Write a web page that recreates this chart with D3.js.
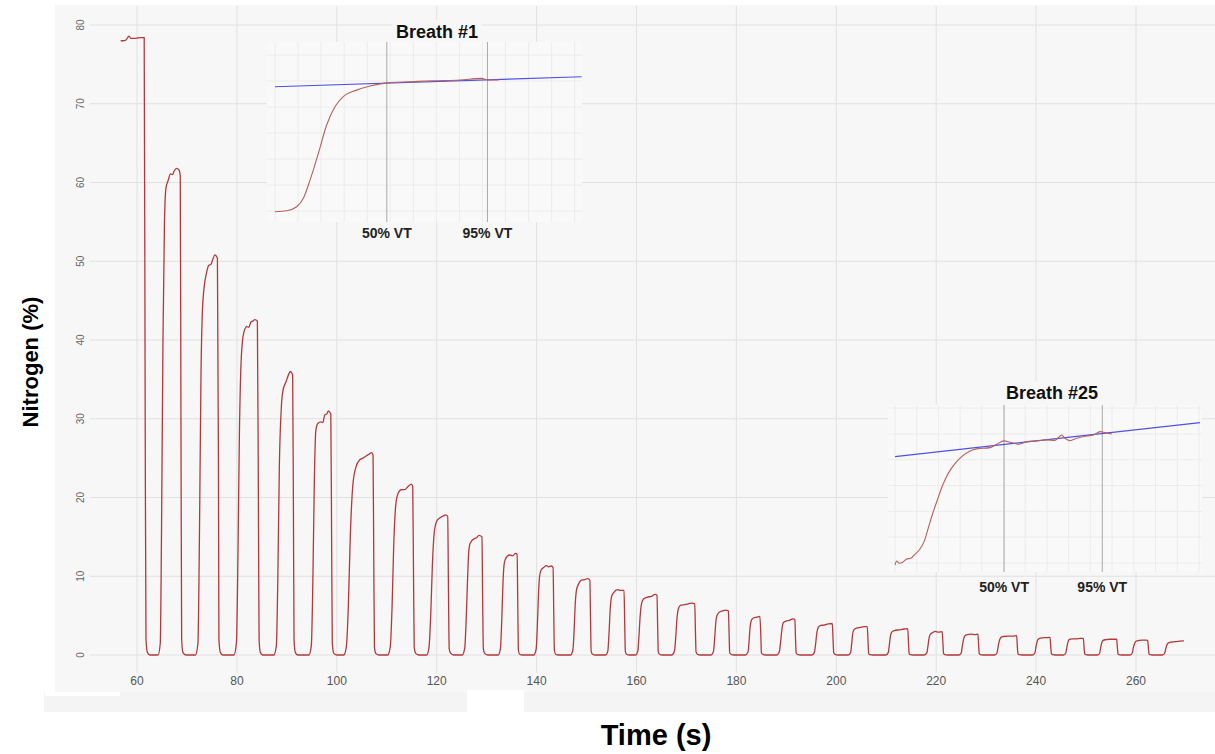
<!DOCTYPE html>
<html>
<head>
<meta charset="utf-8">
<script src="https://cdn.jsdelivr.net/npm/d3@7"></script>
<style>
	body { margin: 0; background: #fff; }
	svg { display: block; font-family: "Liberation Sans", Arial, sans-serif; }
</style>
</head>
<body>
<svg id="chart" width="1215" height="754"></svg>
<script>

// Data

var timeTicks = [60, 80, 100, 120, 140, 160, 180, 200, 220, 240, 260];
var nitrogenTicks = [0, 10, 20, 30, 40, 50, 60, 70, 80];

// washout trace, one array of [time (s), N2 (%)] per breath
var breaths = [
	[[56.74,78.0],[57.2,78.0],[57.8,78.1],[58.4,78.6],[58.8,78.3],[59.8,78.3],[60.6,78.4],[61.44,78.4],[61.64,30],[61.8,2],[62.1,0.3],[62.6,0]],
	[[64.2,0],[64.66,1.5],[64.9,15],[65.2,40],[65.5,55],[65.8,59.3],[66.26,60.3],[66.7,61.1],[67.1,61.0],[67.4,61.4],[67.9,61.8],[68.4,61.6],[68.66,60.9],[68.8,30],[68.94,2],[69.2,0.3],[69.8,0]],
	[[71.7,0],[72.2,1.5],[72.5,15],[72.8,35],[73.2,45],[73.94,48.6],[74.4,49.5],[74.8,49.6],[75.2,50.3],[75.6,50.8],[76.1,50.4],[76.3,25],[76.4,2],[76.7,0.3],[77.2,0]],
	[[79.4,0],[79.9,1.5],[80.2,12],[80.5,28],[80.9,38],[81.4,41.0],[82.0,41.7],[82.4,41.6],[82.8,42.3],[83.2,42.4],[83.6,42.6],[84.1,42.4],[84.3,20],[84.44,2],[84.7,0.3],[85.2,0]],
	[[87.4,0],[87.9,1.2],[88.2,10],[88.5,24],[88.9,31.5],[89.26,33.7],[89.7,34.5],[90.0,35.0],[90.4,35.7],[90.7,36.0],[91.16,35.6],[91.32,18],[91.44,2],[91.7,0.3],[92.2,0]],
	[[94.4,0],[94.9,1.2],[95.2,9],[95.5,22],[95.8,28.5],[96.2,29.4],[96.8,29.6],[97.2,29.5],[97.6,30.5],[98.0,30.6],[98.3,31.0],[98.8,30.6],[98.96,15],[99.1,1.5],[99.4,0.2],[100.0,0]],
	[[101.4,0],[101.9,1],[102.3,6],[102.7,15],[103.2,21.5],[103.8,23.8],[104.6,24.8],[105.26,25.0],[105.94,25.3],[106.46,25.5],[106.94,25.7],[107.26,25.4],[107.4,12],[107.54,1],[107.8,0.2],[108.4,0]],
	[[110.2,0],[110.7,1],[111.06,6],[111.4,14],[111.8,19],[112.26,20.5],[112.94,21.0],[113.6,21.0],[114.26,21.4],[114.94,21.7],[115.2,21.4],[115.36,10],[115.5,1],[115.8,0.2],[116.4,0]],
	[[118.0,0],[118.46,1],[118.8,5],[119.14,11.5],[119.5,15.5],[119.94,16.9],[120.6,17.4],[121.26,17.65],[121.8,17.8],[122.2,17.6],[122.36,8],[122.5,0.8],[122.8,0.2],[123.4,0]],
	[[125.1,0],[125.6,0.8],[125.9,4.5],[126.2,10],[126.4,13],[126.7,14.2],[127.6,14.8],[128.0,14.9],[128.46,15.2],[129.06,15.0],[129.2,7],[129.34,0.8],[129.6,0.2],[130.2,0]],
	[[132.3,0],[132.76,0.8],[133.0,4],[133.26,9],[133.46,11.3],[133.7,12.1],[134.6,12.7],[135.2,12.6],[135.8,12.9],[136.1,12.8],[136.24,6],[136.36,0.6],[136.6,0.1],[137.2,0]],
	[[139.4,0],[139.9,0.7],[140.14,3.5],[140.4,8],[140.6,10],[140.9,10.8],[141.4,11.1],[141.94,11.35],[142.4,11.2],[142.94,11.3],[143.3,11.1],[143.44,5],[143.56,0.6],[143.8,0.1],[144.4,0]],
	[[146.8,0],[147.26,0.6],[147.5,3],[147.74,6.5],[148.0,8.3],[148.4,9.0],[148.94,9.5],[149.5,9.55],[150.26,9.7],[150.66,9.5],[150.8,4.5],[150.92,0.5],[151.2,0.1],[151.8,0]],
	[[153.8,0],[154.26,0.5],[154.5,2.8],[154.74,5.8],[155.0,7.4],[155.4,7.9],[156.26,8.3],[156.8,8.2],[157.5,8.2],[157.64,4],[157.76,0.5],[158.0,0.1],[158.6,0]],
	[[159.8,0],[160.26,0.5],[160.5,2.5],[160.74,5],[161.0,6.5],[161.4,7.1],[162.2,7.35],[163.0,7.45],[163.7,7.7],[164.1,7.6],[164.24,3.5],[164.36,0.4],[164.6,0.1],[165.2,0]],
	[[167.1,0],[167.6,0.5],[167.86,2.3],[168.1,4.6],[168.4,5.9],[168.8,6.3],[169.6,6.4],[170.4,6.5],[171.1,6.6],[171.66,6.5],[171.8,3],[171.92,0.4],[172.2,0.1],[172.8,0]],
	[[174.9,0],[175.4,0.4],[175.64,2],[175.86,4],[176.1,5.0],[176.5,5.4],[177.2,5.6],[177.9,5.7],[178.4,5.6],[178.54,2.6],[178.66,0.3],[178.9,0.1],[179.5,0]],
	[[181.8,0],[182.34,0.4],[182.54,1.8],[182.74,3.5],[183.0,4.4],[183.4,4.7],[184.1,4.8],[184.7,4.9],[184.9,2.3],[185.0,0.3],[185.26,0.1],[185.8,0]],
	[[188.1,0],[188.6,0.4],[188.84,1.6],[189.1,3.2],[189.4,4.1],[189.9,4.3],[190.6,4.4],[191.3,4.6],[191.7,4.5],[191.84,2],[191.96,0.3],[192.2,0.1],[192.8,0]],
	[[195.1,0],[195.6,0.3],[195.86,1.4],[196.1,2.8],[196.4,3.5],[196.9,3.75],[197.6,3.8],[198.4,3.95],[199.2,4.0],[199.36,1.8],[199.48,0.3],[199.7,0.1],[200.3,0]],
	[[202.4,0],[202.86,0.3],[203.06,1.3],[203.26,2.6],[203.5,3.2],[204.0,3.4],[204.8,3.5],[205.6,3.6],[206.2,3.6],[206.36,1.6],[206.48,0.2],[206.7,0.05],[207.3,0]],
	[[209.9,0],[210.4,0.3],[210.6,1.2],[210.84,2.4],[211.1,2.9],[211.6,3.1],[212.6,3.2],[213.6,3.3],[214.3,3.35],[214.46,1.5],[214.58,0.2],[214.8,0.05],[215.4,0]],
	[[217.6,0],[218.14,0.3],[218.34,1.1],[218.56,2.1],[218.8,2.6],[219.3,2.85],[219.8,3.0],[220.5,2.9],[221.2,2.95],[221.36,1.3],[221.48,0.2],[221.7,0.05],[222.3,0]],
	[[224.5,0],[225.0,0.25],[225.2,1.0],[225.44,1.9],[225.7,2.4],[226.2,2.6],[227.0,2.65],[227.8,2.6],[228.36,2.65],[228.5,1.2],[228.62,0.2],[228.84,0.05],[229.4,0]],
	[[231.7,0],[232.16,0.25],[232.36,0.9],[232.6,1.7],[232.9,2.2],[233.4,2.35],[234.4,2.4],[235.4,2.4],[236.1,2.45],[236.24,1.1],[236.36,0.2],[236.6,0.05],[237.2,0]],
	[[239.3,0],[239.76,0.25],[239.94,0.9],[240.16,1.6],[240.4,2.0],[240.9,2.15],[241.6,2.2],[242.3,2.2],[242.8,2.25],[242.94,1.0],[243.06,0.2],[243.3,0.05],[243.8,0]],
	[[245.5,0],[245.94,0.25],[246.14,0.9],[246.36,1.6],[246.6,1.95],[247.2,2.05],[248.0,2.05],[248.8,2.1],[249.46,2.12],[249.6,1.0],[249.72,0.2],[249.94,0.05],[250.4,0]],
	[[252.3,0],[252.74,0.25],[252.92,0.9],[253.12,1.5],[253.4,1.85],[254.0,1.95],[254.8,2.0],[255.5,2.0],[256.14,2.0],[256.28,0.9],[256.4,0.15],[256.6,0.05],[257.1,0]],
	[[258.8,0],[259.26,0.25],[259.46,0.9],[259.68,1.4],[260.0,1.75],[260.6,1.85],[261.3,1.9],[261.9,1.9],[262.34,1.85],[262.48,0.9],[262.6,0.15],[262.8,0.05],[263.3,0]],
	[[265.3,0],[265.76,0.25],[265.96,0.8],[266.2,1.3],[266.5,1.55],[267.2,1.65],[268.0,1.7],[268.8,1.75],[269.6,1.8]]
];

// inset curves: [expired volume (L), N2 (inset units)]
var breath1Curve = [[0,-0.27],[0.051,0.12],[0.094,1.65],[0.123,4.9],[0.152,11.9],[0.188,22.2],[0.224,33.1],[0.26,40.1],[0.296,44.0],[0.354,46.5],[0.412,48.1],[0.487,49.3],[0.586,49.7],[0.687,50.1],[0.803,50.4],[0.897,51.0],[0.924,50.4],[0.969,50.4]];
var breath1Fit = [[0,47.8],[1.33,51.65]];
var breath1VT = 0.97;

var breath25Curve = [[0,-0.78],[0.0078,0.78],[0.0198,-0.12],[0.0355,0.27],[0.054,1.55],[0.072,1.82],[0.092,3.37],[0.115,5.43],[0.134,8.26],[0.153,13.45],[0.174,19.26],[0.195,24.4],[0.22,30.2],[0.246,34.8],[0.269,37.7],[0.307,41.2],[0.346,43.4],[0.376,44.2],[0.438,44.7],[0.469,46.0],[0.502,47.3],[0.53,46.8],[0.568,46.0],[0.607,47.0],[0.653,47.3],[0.699,47.7],[0.737,47.5],[0.768,49.6],[0.783,48.3],[0.806,47.4],[0.837,48.3],[0.883,49.2],[0.914,49.6],[0.945,50.9],[0.968,50.5],[0.998,50.0]];
var breath25Fit = [[0,41.2],[1.405,54.4]];
var breath25VT = 1.005;

var vtFractions = [0.5, 0.95];
var vtLabels = ["50% VT", "95% VT"];
var insetVolumeTicks = [0, 0.1, 0.2, 0.3, 0.4, 0.5, 0.6, 0.7, 0.8, 0.9, 1.0, 1.1, 1.2, 1.3, 1.4];
var insetN2Ticks = [0, 10, 20, 30, 40, 50, 60];

// Chart

var svg = d3.select("#chart");
var bg = "#f7f7f7";
var gridColor = "#e1e1e1";

var x = d3.scaleLinear().domain([60, 260]).range([137, 1136]);
var y = d3.scaleLinear().domain([0, 80]).range([655, 25]);

// panel + the pasted strip under it
svg.append("rect").attr("x", 55).attr("y", 5).attr("width", 1160).attr("height", 687).attr("fill", bg);
svg.append("rect").attr("x", 44).attr("y", 692).attr("width", 1171).attr("height", 20).attr("fill", "#f4f4f4");
svg.append("rect").attr("x", 45).attr("y", 692).attr("width", 75).attr("height", 4).attr("fill", "#fff");
svg.append("rect").attr("x", 467).attr("y", 690).attr("width", 57).attr("height", 22).attr("fill", "#fff");

// grid
svg.append("g").selectAll("line").data(nitrogenTicks).enter().append("line")
	.attr("x1", 90).attr("x2", 1215)
	.attr("y1", function(d) { return y(d); }).attr("y2", function(d) { return y(d); })
	.attr("stroke", gridColor).attr("stroke-width", 1);

svg.append("g").selectAll("line").data(timeTicks).enter().append("line")
	.attr("x1", function(d) { return x(d); }).attr("x2", function(d) { return x(d); })
	.attr("y1", 6).attr("y2", 673)
	.attr("stroke", gridColor).attr("stroke-width", 1);

// tick labels
svg.append("g").selectAll("text").data(timeTicks).enter().append("text")
	.attr("x", function(d) { return x(d); }).attr("y", 685)
	.attr("text-anchor", "middle").attr("font-size", 12).attr("fill", "#555")
	.text(function(d) { return d; });

svg.append("g").selectAll("text").data(nitrogenTicks).enter().append("text")
	.attr("transform", function(d) { return "translate(84," + y(d) + ") rotate(-90)"; })
	.attr("text-anchor", "middle").attr("font-size", 10).attr("fill", "#666")
	.text(function(d) { return d; });

// axis titles
svg.append("text").attr("transform", "translate(38,362) rotate(-90)")
	.attr("text-anchor", "middle").attr("font-size", 22).attr("font-weight", "bold").attr("fill", "#000")
	.text("Nitrogen (%)");

svg.append("text").attr("x", 656).attr("y", 745)
	.attr("text-anchor", "middle").attr("font-size", 29).attr("font-weight", "bold").attr("fill", "#000")
	.text("Time (s)");

// trace
var traceLine = d3.line()
	.x(function(d) { return x(d[0]); })
	.y(function(d) { return y(d[1]); })
	.curve(d3.curveMonotoneX);

svg.append("path").datum(d3.merge(breaths))
	.attr("d", traceLine)
	.attr("fill", "none").attr("stroke", "#b3383b").attr("stroke-width", 1.3);

// Insets

function drawInset(opt) {

	var g = svg.append("g");
	var ix = d3.scaleLinear().domain(opt.xDomain).range([opt.left, opt.right]);
	var iy = d3.scaleLinear().domain(opt.yDomain).range([opt.bottom, opt.top]);

	g.append("rect").attr("x", opt.panel[0]).attr("y", opt.top)
		.attr("width", opt.panel[1] - opt.panel[0]).attr("height", opt.bottom - opt.top)
		.attr("fill", "#f9f9f9");

	var title = g.append("text").attr("x", opt.titleX).attr("y", opt.titleY)
		.attr("text-anchor", "middle").attr("font-size", 18).attr("font-weight", "bold").attr("fill", "#111")
		.text(opt.title);
	var box = title.node().getBBox();
	g.insert("rect", "text").attr("x", box.x - 4).attr("y", box.y - 2)
		.attr("width", box.width + 8).attr("height", opt.top - box.y + 2)
		.attr("fill", bg);

	var vTicks = insetVolumeTicks.filter(function(d) { return d <= opt.xDomain[1]; });

	g.append("g").selectAll("line").data(vTicks).enter().append("line")
		.attr("x1", function(d) { return ix(d); }).attr("x2", function(d) { return ix(d); })
		.attr("y1", opt.top).attr("y2", opt.bottom)
		.attr("stroke", "#ececec").attr("stroke-width", 1);

	g.append("g").selectAll("line").data(insetN2Ticks).enter().append("line")
		.attr("x1", opt.panel[0]).attr("x2", opt.panel[1])
		.attr("y1", function(d) { return iy(d); }).attr("y2", function(d) { return iy(d); })
		.attr("stroke", "#ececec").attr("stroke-width", 1);

	g.append("g").selectAll("line").data(vtFractions).enter().append("line")
		.attr("x1", function(d) { return ix(d * opt.vt); }).attr("x2", function(d) { return ix(d * opt.vt); })
		.attr("y1", opt.top).attr("y2", opt.bottom)
		.attr("stroke", "#a8a8a8").attr("stroke-width", 1);

	g.append("g").selectAll("text").data(vtFractions).enter().append("text")
		.attr("x", function(d) { return ix(d * opt.vt); }).attr("y", opt.labelY)
		.attr("text-anchor", "middle").attr("font-size", 14).attr("font-weight", "bold").attr("fill", "#222")
		.text(function(d, i) { return vtLabels[i]; });

	var l = d3.line()
		.x(function(d) { return ix(d[0]); })
		.y(function(d) { return iy(d[1]); });

	g.append("path").datum(opt.fit).attr("d", l)
		.attr("fill", "none").attr("stroke", "#5050e6").attr("stroke-width", 1.2);

	g.append("path").datum(opt.curve).attr("d", l.curve(d3.curveMonotoneX))
		.attr("fill", "none").attr("stroke", "#b8605a").attr("stroke-width", 1.1);
}

drawInset({
	title: "Breath #1", titleX: 437, titleY: 38,
	panel: [267, 582], left: 275, right: 581.6, top: 42, bottom: 222,
	xDomain: [0, 1.33], yDomain: [-4.2, 65],
	curve: breath1Curve, fit: breath1Fit, vt: breath1VT, labelY: 237.5
});

drawInset({
	title: "Breath #25", titleX: 1052, titleY: 399,
	panel: [888, 1202], left: 895, right: 1200, top: 405, bottom: 572,
	xDomain: [0, 1.405], yDomain: [-3.5, 61.2],
	curve: breath25Curve, fit: breath25Fit, vt: breath25VT, labelY: 591.5
});

</script>
</body>
</html>
